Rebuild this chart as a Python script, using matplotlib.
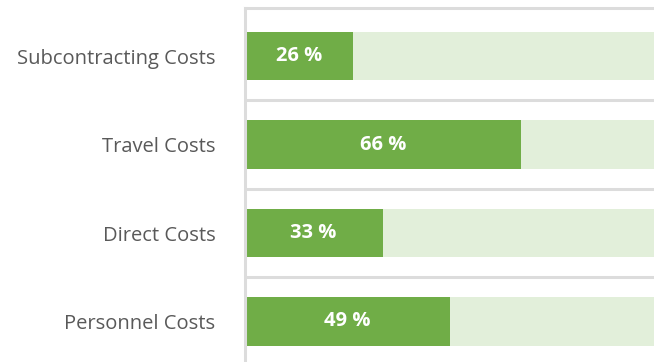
import matplotlib
matplotlib.use("Agg")
import matplotlib.pyplot as plt

categories = ["Subcontracting Costs", "Travel Costs", "Direct Costs", "Personnel Costs"]
values = [26, 66, 33, 49]
full = [100, 100, 100, 100]

W, H = 654, 362
fig = plt.figure(figsize=(W / 100, H / 100), dpi=100)

# axes placed in pixel units: left spine at x=244.5, 100 % spans 419 px
left_px, top_px, width_px = 244.5, 7.5, 419
ax = fig.add_axes([left_px / W, 0, width_px / W, (H - top_px) / H])

pitch = 88.5
first_center = 56
ax.set_ylim((H - first_center) / pitch, -(first_center - top_px) / pitch)
ax.set_xlim(0, 100)

ypos = list(range(len(categories)))
green = "#70ad47"
light = "#e2efda"
grid = "#dcdcdc"

ax.barh(ypos, full, height=0.55, color=light, zorder=1)
ax.barh(ypos, values, height=0.55, color=green, zorder=2)

for y, v in zip(ypos, values):
    ax.text(v / 2, y, f"{v} %", ha="center", va="center", color="white",
            fontsize=14.5, fontweight="bold", family="Open Sans", zorder=3)

for y in [0.5, 1.5, 2.5]:
    ax.axhline(y, color=grid, lw=2.2, zorder=0)

for side in ["right", "bottom"]:
    ax.spines[side].set_visible(False)
for side in ["left", "top"]:
    ax.spines[side].set_color(grid)
    ax.spines[side].set_linewidth(2.2)

ax.set_xticks([])
ax.set_yticks(ypos)
ax.set_yticklabels(categories, fontsize=14.5, color="#595959", family="Open Sans")
ax.tick_params(axis="y", length=0, pad=21)

fig.savefig("out.png", dpi=100)
